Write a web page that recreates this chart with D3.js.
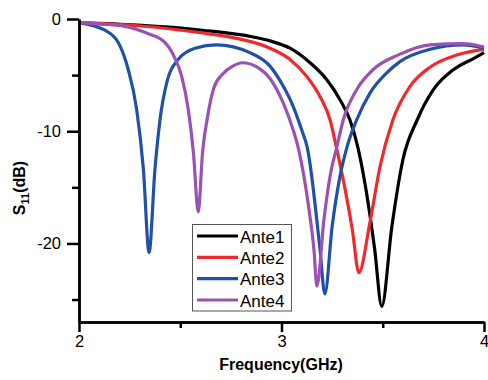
<!DOCTYPE html>
<html>
<head>
<meta charset="utf-8">
<script src="https://cdn.jsdelivr.net/npm/d3@7"></script>
<style>
  html, body { margin: 0; padding: 0; background: #fff; }
  svg { display: block; font-family: Arial, "Liberation Sans", sans-serif; }
</style>
</head>
<body>
<svg id="chart" width="488" height="380"></svg>
<script>
// ---- data ----
const seriesNames = ["Ante1", "Ante2", "Ante3", "Ante4"];
const seriesColors = ["#000000", "#ee2a2e", "#2150a8", "#9b52b3"];

const ante1Freq = [2.0, 2.29, 2.61, 2.86, 2.943, 3.042, 3.141, 3.223, 3.289, 3.338, 3.378, 3.42, 3.46, 3.495, 3.545, 3.60, 3.67, 3.75, 3.85, 3.95, 4.0];
const ante1Val  = [-0.35, -0.55, -1.0, -1.6, -1.95, -2.6, -3.9, -5.4, -7.2, -9.0, -11.5, -15.5, -20.5, -25.6, -18.5, -12.5, -9.0, -6.3, -4.5, -3.5, -3.0];

const ante2Freq = [2.0, 2.29, 2.61, 2.77, 2.943, 3.042, 3.124, 3.19, 3.24, 3.272, 3.31, 3.35, 3.382, 3.437, 3.486, 3.55, 3.635, 3.733, 3.867, 4.0];
const ante2Val  = [-0.35, -0.6, -1.25, -1.7, -2.6, -3.6, -5.1, -6.9, -9.0, -11.5, -14.8, -18.8, -22.6, -18.1, -13.2, -9.0, -6.0, -4.3, -3.2, -2.7];

const ante3Freq = [2.0, 2.128, 2.194, 2.243, 2.285, 2.318, 2.346, 2.375, 2.40, 2.433, 2.49, 2.573, 2.68, 2.844, 2.943, 3.009, 3.058, 3.10, 3.128, 3.19, 3.214, 3.25, 3.289, 3.322, 3.371, 3.437, 3.52, 3.585, 3.733, 3.896, 4.0];
const ante3Val  = [-0.35, -1.0, -2.1, -4.5, -8.1, -13.4, -20.8, -13.4, -9.0, -5.7, -3.6, -2.6, -2.3, -3.0, -4.2, -6.0, -7.8, -9.9, -11.5, -20.5, -24.5, -18.5, -14.0, -11.5, -9.0, -6.6, -4.8, -3.8, -2.7, -2.3, -2.6];

const ante4Freq = [2.0, 2.227, 2.34, 2.425, 2.474, 2.507, 2.54, 2.565, 2.589, 2.61, 2.635, 2.665, 2.71, 2.76, 2.805, 2.89, 2.943, 3.009, 3.058, 3.083, 3.136, 3.16, 3.175, 3.21, 3.245, 3.272, 3.305, 3.371, 3.453, 3.577, 3.733, 3.896, 4.0];
const ante4Val  = [-0.35, -0.65, -1.3, -2.1, -3.5, -5.1, -8.1, -11.9, -17.2, -11.9, -8.7, -6.2, -4.9, -4.2, -3.9, -4.4, -5.3, -7.5, -9.9, -11.5, -17.0, -20.5, -23.8, -17.8, -13.5, -11.5, -9.0, -6.3, -4.5, -3.2, -2.3, -2.2, -2.5];

const xMajorTicks = [2, 3, 4];
const xMinorTicks = [2.5, 3.5];
const yMajorTicks = [0, -10, -20];
const yMinorTicks = [-5, -15, -25];

const xTitle = "Frequency(GHz)";

// ---- chart ----
const svg = d3.select("#chart");
const x = d3.scaleLinear().domain([2, 4]).range([79, 484]);
const y = d3.scaleLinear().domain([-27, 0]).range([322, 19]);

const series = [
  {name: seriesNames[0], color: seriesColors[0], f: ante1Freq, v: ante1Val},
  {name: seriesNames[1], color: seriesColors[1], f: ante2Freq, v: ante2Val},
  {name: seriesNames[2], color: seriesColors[2], f: ante3Freq, v: ante3Val},
  {name: seriesNames[3], color: seriesColors[3], f: ante4Freq, v: ante4Val}
];

const line = d3.line()
  .x(d => x(d[0]))
  .y(d => y(d[1]))
  .curve(d3.curveMonotoneX);

svg.append("g").selectAll("path")
  .data(series)
  .join("path")
  .attr("fill", "none")
  .attr("stroke", d => d.color)
  .attr("stroke-width", 3.2)
  .attr("stroke-linejoin", "round")
  .attr("d", d => line(d.f.map((f, i) => [f, d.v[i]])));

// axes
function styleAxis(g) {
  g.select(".domain").attr("stroke", "#000").attr("stroke-width", 2.5);
  g.selectAll(".tick line").attr("stroke", "#000").attr("stroke-width", 2.5);
  g.selectAll(".tick text").attr("fill", "#000").attr("font-size", "16.5px")
    .attr("font-family", "Arial, 'Liberation Sans', sans-serif");
}

const xAxisMajor = svg.append("g")
  .attr("transform", "translate(0,322)")
  .call(d3.axisBottom(x).tickValues(xMajorTicks).tickSize(10).tickSizeOuter(0).tickPadding(3).tickFormat(d3.format("d")));
styleAxis(xAxisMajor);

const xAxisMinor = svg.append("g")
  .attr("transform", "translate(0,322)")
  .call(d3.axisBottom(x).tickValues(xMinorTicks).tickSize(6).tickSizeOuter(0).tickFormat(""));
styleAxis(xAxisMinor);

const yAxisMajor = svg.append("g")
  .attr("transform", "translate(79,0)")
  .call(d3.axisLeft(y).tickValues(yMajorTicks).tickSize(12).tickSizeOuter(0).tickPadding(6).tickFormat(d3.format("d")));
styleAxis(yAxisMajor);

const yAxisMinor = svg.append("g")
  .attr("transform", "translate(79,0)")
  .call(d3.axisLeft(y).tickValues(yMinorTicks).tickSize(7).tickSizeOuter(0).tickFormat(""));
styleAxis(yAxisMinor);

// use hyphen-minus like the reference
yAxisMajor.selectAll(".tick text").text(d => String(d));

// axis titles
svg.append("text")
  .attr("x", 281).attr("y", 370)
  .attr("text-anchor", "middle")
  .attr("font-size", "16px").attr("font-weight", "bold")
  .text(xTitle);

const yt = svg.append("text")
  .attr("transform", "translate(25,188) rotate(-90)")
  .attr("text-anchor", "middle")
  .attr("font-size", "16px").attr("font-weight", "bold");
yt.append("tspan").text("S");
yt.append("tspan").attr("font-size", "11px").attr("dy", 4).text("11");
yt.append("tspan").attr("dy", -4).text("(dB)");

// legend
const lg = svg.append("g");
lg.append("rect")
  .attr("x", 192.5).attr("y", 224.5).attr("width", 99).attr("height", 86.5)
  .attr("fill", "#fff").attr("stroke", "#555").attr("stroke-width", 1);
const rowY = d3.scalePoint().domain(seriesNames).range([236, 300]);
const rows = lg.selectAll("g.row").data(series).join("g").attr("class", "row")
  .attr("transform", d => `translate(0,${rowY(d.name)})`);
rows.append("line")
  .attr("x1", 197).attr("x2", 238).attr("y1", 0).attr("y2", 0)
  .attr("stroke", d => d.color).attr("stroke-width", 3.2);
rows.append("text")
  .attr("x", 240).attr("y", 6.5)
  .attr("font-size", "17px")
  .text(d => d.name);
</script>
</body>
</html>
